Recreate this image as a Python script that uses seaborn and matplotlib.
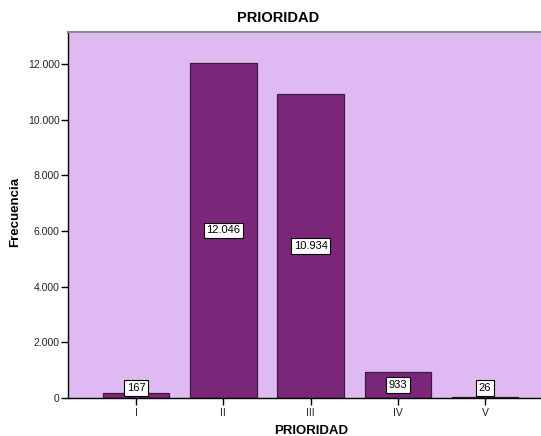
import matplotlib
matplotlib.use("Agg")
import matplotlib.pyplot as plt
import seaborn as sns
import pandas as pd

categorias = ["I", "II", "III", "IV", "V"]
frecuencias = [167, 12046, 10934, 933, 26]
ticks_y = [0, 2000, 4000, 6000, 8000, 10000, 12000]
etiquetas_y = ["0", "2.000", "4.000", "6.000", "8.000", "10.000", "12.000"]

def fmt_miles(v):
    return f"{v:,}".replace(",", ".")

sns.set_theme(style="white")
plt.rcParams["font.family"] = ["Liberation Sans", "DejaVu Sans"]
plt.rcParams["text.color"] = "black"

df = pd.DataFrame({"PRIORIDAD": categorias, "Frecuencia": frecuencias})

fig = plt.figure(figsize=(5.41, 4.36), dpi=100)
ax = fig.add_axes([68 / 541, 38 / 436, 1 - 68 / 541, 366 / 436])
ax.set_facecolor("#DFBAF2")

sns.barplot(data=df, x="PRIORIDAD", y="Frecuencia", order=categorias,
            color="#7B2779", saturation=1, width=0.76,
            edgecolor="#3B1A3A", linewidth=0.9, ax=ax)

ax.set_xlim(-0.78, 4.64)
ax.set_ylim(0, 13150)
ax.set_yticks(ticks_y)
ax.set_yticklabels(etiquetas_y, fontsize=7.5)
ax.tick_params(axis="x", labelsize=7.5, length=5, width=1, color="black",
               direction="out", bottom=True, pad=2, labelcolor="#222222")
ax.tick_params(axis="y", length=5, width=1, color="black",
               direction="out", left=True, pad=1, labelcolor="#222222")

for s in ["left", "bottom"]:
    ax.spines[s].set_color("black")
    ax.spines[s].set_linewidth(1.0)
ax.spines["top"].set_color("#8C8C8C")
ax.spines["top"].set_linewidth(1.5)
ax.spines["right"].set_visible(False)

ax.set_xlabel("")
ax.set_ylabel("")
fig.text(311 / 541, 1 - 431 / 436, "PRIORIDAD", ha="center", va="center",
         fontsize=9.5, fontweight="bold", color="black")
fig.text(15 / 541, 1 - 212 / 436, "Frecuencia", ha="center", va="center",
         rotation=90, fontsize=9.5, fontweight="bold", color="black")

for i, v in enumerate(frecuencias):
    y = max(v / 2, 360)
    ax.text(i, y, fmt_miles(v), ha="center", va="center", fontsize=8,
            color="black",
            bbox=dict(boxstyle="square,pad=0.25", facecolor="white",
                      edgecolor="black", linewidth=0.8))

fig.text(278 / 541, 1 - 18 / 436, "PRIORIDAD", ha="center", va="center",
         fontsize=10.5, fontweight="bold", color="black")

fig.savefig("out.png", dpi=100)
